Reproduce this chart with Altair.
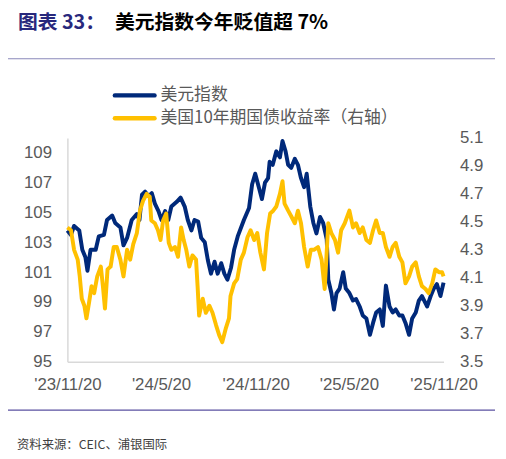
import altair as alt
import pandas as pd

# ---------------- data ----------------
dxy_dates = [
    "2023-11-20", "2023-11-27", "2023-12-03", "2023-12-13", "2023-12-19", "2023-12-25", "2023-12-29",
    "2024-01-04", "2024-01-14", "2024-01-20", "2024-01-30", "2024-02-05", "2024-02-15", "2024-02-21",
    "2024-03-02", "2024-03-08", "2024-03-15", "2024-03-24", "2024-04-03", "2024-04-08", "2024-04-13",
    "2024-04-19", "2024-04-26", "2024-05-02", "2024-05-08", "2024-05-15", "2024-05-21", "2024-05-28",
    "2024-06-03", "2024-06-09", "2024-06-19", "2024-06-27", "2024-07-05", "2024-07-11", "2024-07-18",
    "2024-07-24", "2024-07-31", "2024-08-06", "2024-08-13", "2024-08-19", "2024-08-25", "2024-09-01",
    "2024-09-07", "2024-09-14", "2024-09-20", "2024-09-26", "2024-10-03", "2024-10-09", "2024-10-16",
    "2024-10-28", "2024-11-07", "2024-11-13", "2024-11-19", "2024-11-26", "2024-12-02", "2024-12-08",
    "2024-12-14", "2024-12-17", "2024-12-23", "2024-12-30", "2025-01-06", "2025-01-11", "2025-01-17",
    "2025-01-22", "2025-01-28", "2025-02-04", "2025-02-10", "2025-02-16", "2025-02-22", "2025-02-27",
    "2025-03-06", "2025-03-12", "2025-03-18", "2025-03-25", "2025-03-31", "2025-04-07", "2025-04-10",
    "2025-04-16", "2025-04-21", "2025-04-26", "2025-05-02", "2025-05-09", "2025-05-14", "2025-05-21",
    "2025-05-28", "2025-06-03", "2025-06-10", "2025-06-16", "2025-06-23", "2025-06-30", "2025-07-06",
    "2025-07-12", "2025-07-19", "2025-07-25", "2025-07-31", "2025-08-07", "2025-08-13", "2025-08-19",
    "2025-08-26", "2025-09-01", "2025-09-07", "2025-09-14", "2025-09-20", "2025-09-27", "2025-10-03",
    "2025-10-09", "2025-10-19", "2025-10-26", "2025-11-01", "2025-11-07", "2025-11-14", "2025-11-20",
]
dxy_values = [
    103.8, 103.5, 104.1, 103.8, 102.5, 102.0, 101.1,
    102.5, 102.5, 103.4, 103.5, 104.5, 104.8, 104.3,
    104.0, 102.8, 103.3, 104.5, 104.9, 104.5, 106.2,
    106.4, 106.1, 106.3, 105.6, 105.1, 104.5, 105.1,
    104.5, 105.4, 105.7, 106.0, 105.4, 104.5, 103.8,
    104.5, 104.4, 103.3, 103.0, 101.8, 100.9, 101.7,
    100.9, 101.6, 100.9, 100.5, 101.3, 102.5, 103.4,
    104.5, 105.3, 106.9, 107.6, 106.7, 105.9, 107.0,
    107.3, 108.4, 108.2, 109.1, 108.7, 109.8, 109.1,
    108.2, 108.0, 108.6, 108.2, 107.3, 106.7, 107.6,
    105.4, 104.3, 103.6, 104.7, 104.3, 103.2, 100.5,
    99.6, 98.5, 99.6, 99.9, 101.0, 99.9, 99.6,
    99.1, 99.2, 98.7, 98.1, 97.9, 96.8, 97.6,
    98.3, 98.5, 97.4, 100.1, 98.7, 98.3, 98.5,
    98.1, 98.1, 97.6, 96.8, 97.9, 98.3, 99.1,
    99.4, 98.7, 99.4, 99.9, 100.2, 99.4, 100.3,
]

ust_dates = [
    "2023-11-20", "2023-11-27", "2023-12-03", "2023-12-10", "2023-12-14", "2023-12-18", "2023-12-23",
    "2023-12-27", "2024-01-01", "2024-01-06", "2024-01-11", "2024-01-17", "2024-01-24", "2024-01-28",
    "2024-02-01", "2024-02-06", "2024-02-12", "2024-02-18", "2024-02-24", "2024-03-02", "2024-03-08",
    "2024-03-15", "2024-03-21", "2024-03-27", "2024-04-03", "2024-04-09", "2024-04-15", "2024-04-22",
    "2024-04-28", "2024-05-01", "2024-05-08", "2024-05-14", "2024-05-19", "2024-05-24", "2024-05-30",
    "2024-06-04", "2024-06-09", "2024-06-16", "2024-06-22", "2024-06-28", "2024-07-03", "2024-07-08",
    "2024-07-14", "2024-07-20", "2024-07-27", "2024-07-30", "2024-08-02", "2024-08-09", "2024-08-15",
    "2024-08-22", "2024-08-28", "2024-09-04", "2024-09-10", "2024-09-16", "2024-09-23", "2024-09-29",
    "2024-10-02", "2024-10-09", "2024-10-15", "2024-10-22", "2024-10-28", "2024-11-04", "2024-11-10",
    "2024-11-17", "2024-11-23", "2024-11-29", "2024-12-06", "2024-12-12", "2024-12-18", "2024-12-24",
    "2024-12-30", "2025-01-06", "2025-01-11", "2025-01-15", "2025-01-22", "2025-01-28", "2025-02-04",
    "2025-02-10", "2025-02-16", "2025-02-22", "2025-03-01", "2025-03-07", "2025-03-13", "2025-03-21",
    "2025-03-28", "2025-04-03", "2025-04-10", "2025-04-16", "2025-04-23", "2025-04-29", "2025-05-05",
    "2025-05-12", "2025-05-21", "2025-05-28", "2025-06-03", "2025-06-10", "2025-06-16", "2025-06-23",
    "2025-06-30", "2025-07-06", "2025-07-12", "2025-07-19", "2025-07-25", "2025-07-31", "2025-08-07",
    "2025-08-13", "2025-08-19", "2025-08-26", "2025-09-01", "2025-09-07", "2025-09-14", "2025-09-20",
    "2025-09-27", "2025-10-03", "2025-10-09", "2025-10-16", "2025-10-22", "2025-10-29", "2025-11-04",
    "2025-11-11", "2025-11-17", "2025-11-20",
]
ust_values = [
    4.46, 4.44, 4.30, 4.23, 4.11, 3.95, 3.90,
    3.81, 3.92, 4.04, 3.99, 4.11, 4.18, 4.04,
    3.88, 4.16, 4.18, 4.32, 4.32, 4.23, 4.11,
    4.30, 4.23, 4.34, 4.42, 4.58, 4.65, 4.70,
    4.68, 4.51, 4.49, 4.44, 4.37, 4.51, 4.56,
    4.35, 4.30, 4.32, 4.25, 4.46, 4.37, 4.30,
    4.18, 4.26, 4.23, 4.04, 3.83, 3.95, 3.85,
    3.90, 3.85, 3.76, 3.69, 3.64, 3.74, 3.81,
    3.97, 4.06, 4.09, 4.23, 4.28, 4.39, 4.44,
    4.37, 4.42, 4.28, 4.16, 4.42, 4.56, 4.58,
    4.61, 4.70, 4.79, 4.63, 4.58, 4.54, 4.49,
    4.58, 4.49, 4.32, 4.18, 4.30, 4.30, 4.32,
    4.23, 4.02, 4.49, 4.42, 4.37, 4.28, 4.44,
    4.49, 4.58, 4.46, 4.49, 4.42, 4.46, 4.37,
    4.35, 4.44, 4.51, 4.42, 4.42, 4.32, 4.25,
    4.32, 4.35, 4.25, 4.21, 4.06, 4.11, 4.18,
    4.21, 4.11, 4.04, 4.02, 3.99, 4.06, 4.16,
    4.14, 4.14, 4.11,
]

x_tick_dates = ["2023-11-20", "2024-05-20", "2024-11-20", "2025-05-20", "2025-11-20"]
left_ticks = [95, 97, 99, 101, 103, 105, 107, 109]
left_domain = [95, 110]
right_ticks = [3.5, 3.7, 3.9, 4.1, 4.3, 4.5, 4.7, 4.9, 5.1]
right_domain = [3.5, 5.1]

title_prefix = "图表 33："
title_main = "美元指数今年贬值超 7%"
legend_labels = ["美元指数", "美国10年期国债收益率（右轴）"]
source_text = "资料来源：CEIC、浦银国际"

# ---------------- styling ----------------
BLUE = "#00297A"
YELLOW = "#FFC000"
AXIS_GRAY = "#595959"
LINE_GRAY = "#D9D9D9"
TITLE_NAVY = "#28287C"
LABEL_FONT = "Liberation Sans"
CJK_FONT = "Noto Sans CJK SC"


def dt(s):
    y, m, d = (int(v) for v in s.split("-"))
    return alt.DateTime(year=y, month=m, date=d, utc=True)


df_dxy = pd.DataFrame({"date": dxy_dates, "value": dxy_values})
df_ust = pd.DataFrame({"date": ust_dates, "value": ust_values})

x_enc = alt.X(
    "date:T",
    scale=alt.Scale(type="utc", domain=[dt(x_tick_dates[0]), dt(x_tick_dates[-1])]),
    axis=alt.Axis(
        values=[dt(d) for d in x_tick_dates],
        labelExpr="utcFormat(datum.value, \"'%y/%-m/%d\")",
        labelFlush=False,
        labelOverlap=False,
        domainColor=LINE_GRAY,
        domainWidth=1.5,
        labelPadding=15,
        title=None,
    ),
)

blue = alt.Chart(df_dxy).mark_line(color=BLUE, strokeWidth=4, strokeJoin="round").encode(
    x=x_enc,
    y=alt.Y(
        "value:Q",
        scale=alt.Scale(domain=left_domain, zero=False, nice=False),
        axis=alt.Axis(
            values=left_ticks,
            orient="left",
            domainColor=LINE_GRAY,
            domainWidth=1.5,
            labelPadding=16,
            title=None,
        ),
    ),
)

yellow = alt.Chart(df_ust).mark_line(color=YELLOW, strokeWidth=4, strokeJoin="round").encode(
    x=x_enc,
    y=alt.Y(
        "value:Q",
        scale=alt.Scale(domain=right_domain, zero=False, nice=False),
        axis=alt.Axis(
            values=right_ticks,
            orient="right",
            format=".1f",
            domain=False,
            labelPadding=16,
            title=None,
        ),
    ),
)

one = pd.DataFrame({"k": [0]})

title1 = alt.Chart(one).mark_text(
    text=title_prefix, font=CJK_FONT, fontSize=20, fontWeight="bold",
    color=TITLE_NAVY, align="left", baseline="middle",
).encode(x=alt.value(-50), y=alt.value(-116))

title2 = alt.Chart(one).mark_text(
    text=title_main, font=CJK_FONT, fontSize=20, fontWeight="bold",
    color="#000000", align="left", baseline="middle",
).encode(x=alt.value(48), y=alt.value(-116))

top_line = alt.Chart(one).mark_rule(color="#8A88BA", strokeWidth=1.2).encode(
    x=alt.value(-63), x2=alt.value(432), y=alt.value(-80)
)
bottom_line = alt.Chart(one).mark_rule(color="#5A50A0", strokeWidth=1.2).encode(
    x=alt.value(-63), x2=alt.value(432), y=alt.value(275)
)

leg_rule1 = alt.Chart(one).mark_rule(color=BLUE, strokeWidth=4.5, strokeCap="round").encode(
    x=alt.value(48), x2=alt.value(88), y=alt.value(-43)
)
leg_rule2 = alt.Chart(one).mark_rule(color=YELLOW, strokeWidth=4.5, strokeCap="round").encode(
    x=alt.value(48), x2=alt.value(88), y=alt.value(-20)
)
leg_text1 = alt.Chart(one).mark_text(
    text=legend_labels[0], font=CJK_FONT, fontSize=17, color=AXIS_GRAY,
    align="left", baseline="middle",
).encode(x=alt.value(94), y=alt.value(-43))
leg_text2 = alt.Chart(one).mark_text(
    text=legend_labels[1], font=CJK_FONT, fontSize=17, color=AXIS_GRAY,
    align="left", baseline="middle",
).encode(x=alt.value(94), y=alt.value(-20))

source = alt.Chart(one).mark_text(
    text=source_text, font=CJK_FONT, fontSize=12.5, color="#404040",
    align="left", baseline="middle",
).encode(x=alt.value(-51), y=alt.value(310))

lines = alt.layer(blue, yellow).resolve_scale(y="independent")

chart = (
    alt.layer(lines, title1, title2, top_line, bottom_line,
              leg_rule1, leg_rule2, leg_text1, leg_text2, source)
    .properties(
        width=380,
        height=226,
        autosize=alt.AutoSizeParams(type="none"),
        padding={"left": 60, "top": 129, "right": 55, "bottom": 92},
        background="white",
    )
    .configure_view(stroke=None)
    .configure_axis(
        grid=False,
        ticks=False,
        tickSize=0,
        labelFont=LABEL_FONT,
        labelFontSize=17,
        labelColor=AXIS_GRAY,
    )
)

chart.save("out.html", embed_options={"renderer": "svg", "actions": False})
